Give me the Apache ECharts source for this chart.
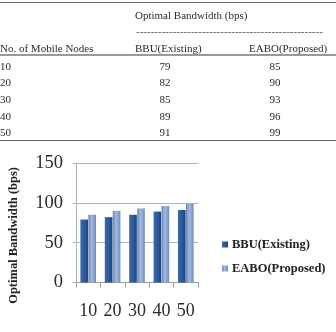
<!DOCTYPE html>
<html>
<head>
<meta charset="utf-8">
<script src="https://cdn.jsdelivr.net/npm/echarts@6/dist/echarts.min.js"></script>
<style>
  html, body { margin: 0; padding: 0; background: #fff; }
  #wrap { position: relative; width: 336px; height: 332px; overflow: hidden; }
  #chart { position: absolute; left: 0; top: 0; width: 336px; height: 332px; }
  #table { position: absolute; left: 0; top: 0; width: 336px; height: 145px; z-index: 2;
    font-family: 'Liberation Serif', 'DejaVu Serif', serif; font-size: 11px; color: #2a2a2a; }
  #table div { position: absolute; white-space: nowrap; line-height: 12px; }
</style>
</head>
<body>
<div id="wrap">
  <div id="chart"></div>
  <div id="table"></div>
</div>
<script>
// 数据
const nodes = ['10', '20', '30', '40', '50']
const bbuExisting = [79, 82, 85, 89, 91]
const eaboProposed = [85, 90, 93, 96, 99]
const seriesNames = ['BBU(Existing)', 'EABO(Proposed)']
const yTicks = [0, 50, 100, 150]

/* 表格 */
function drawTable() {
  const t = document.getElementById('table')
  const add = (txt, css) => {
    const d = document.createElement('div')
    d.textContent = txt
    Object.assign(d.style, css)
    t.appendChild(d)
    return d
  }
  add('', { left: '0', top: '2px', width: '336px', borderTop: '1.5px solid #6a6a6a' })
  add('Optimal Bandwidth (bps)', { left: '135px', top: '9px' })
  add('-'.repeat(51), { left: '136px', top: '25px', color: '#555' })
  add('No. of Mobile Nodes', { left: '0', top: '42px' })
  add(seriesNames[0], { left: '135px', top: '42px' })
  add(seriesNames[1], { left: '249px', top: '42px' })
  add('', { left: '0', top: '54px', width: '336px', borderTop: '2px solid #9a9a9a' })
  const rowTop = 59.7
  const rowStep = 16.6
  nodes.forEach((n, i) => {
    const top = (rowTop + i * rowStep) + 'px'
    add(n, { left: '0', top })
    add(String(bbuExisting[i]), { left: '150px', top, width: '30px', textAlign: 'center' })
    add(String(eaboProposed[i]), { left: '260px', top, width: '30px', textAlign: 'center' })
  })
  add('', { left: '0', top: '140px', width: '336px', borderTop: '1.5px solid #6a6a6a' })
}
drawTable()

const barGrad = (c1, c2, c3) => new echarts.graphic.LinearGradient(0, 0, 1, 0, [
  { offset: 0, color: c1 },
  { offset: 0.45, color: c2 },
  { offset: 1, color: c3 }
])

const myChart = echarts.init(document.getElementById('chart'))
const serif = "'Liberation Serif', 'DejaVu Serif', serif"
myChart.setOption({
  animation: false,
  grid: { left: 76, right: 138, top: 163, bottom: 49.5, containLabel: false },
  legend: {
    orient: 'vertical',
    left: 217,
    top: 233,
    itemWidth: 6,
    itemHeight: 6,
    itemGap: 11,
    icon: 'rect',
    textStyle: { fontFamily: serif, fontSize: 12.5, fontWeight: 'bold', color: '#222', padding: [0, 0, 0, -1] },
    data: seriesNames
  },
  xAxis: {
    type: 'category',
    data: nodes,
    axisLine: { lineStyle: { color: '#9a9a9a', width: 1 } },
    axisTick: { show: true, length: 5, alignWithLabel: false, lineStyle: { color: '#9a9a9a' } },
    axisLabel: { fontFamily: serif, fontSize: 18, color: '#2a2a2a', margin: 20 }
  },
  yAxis: {
    type: 'value',
    min: yTicks[0],
    max: yTicks[yTicks.length - 1],
    interval: 50,
    axisLine: { show: true, lineStyle: { color: '#b0b0b0' } },
    axisTick: { show: true, length: 3, lineStyle: { color: '#b0b0b0' } },
    axisLabel: { fontFamily: serif, fontSize: 18.5, color: '#2a2a2a', margin: 13 },
    splitLine: { lineStyle: { color: '#b4b4b4', width: 1 } }
  },
  graphic: [{
    type: 'text',
    left: 7,
    top: 167,
    style: {
      text: 'Optimal Bandwidth (bps)',
      fontFamily: serif,
      fontSize: 12.5,
      fontWeight: 'bold',
      fill: '#222'
    },
    rotation: Math.PI / 2,
    originX: 0,
    originY: 0
  }],
  series: [
    {
      name: seriesNames[0],
      type: 'bar',
      data: bbuExisting,
      barGap: '4%',
      barCategoryGap: '36%',
      itemStyle: { color: barGrad('#3a68ad', '#2f5c9e', '#1e467f') }
    },
    {
      name: seriesNames[1],
      type: 'bar',
      data: eaboProposed,
      itemStyle: { color: barGrad('#6a88bd', '#a4b9dd', '#6f8cc0') }
    }
  ]
})
</script>
</body>
</html>
